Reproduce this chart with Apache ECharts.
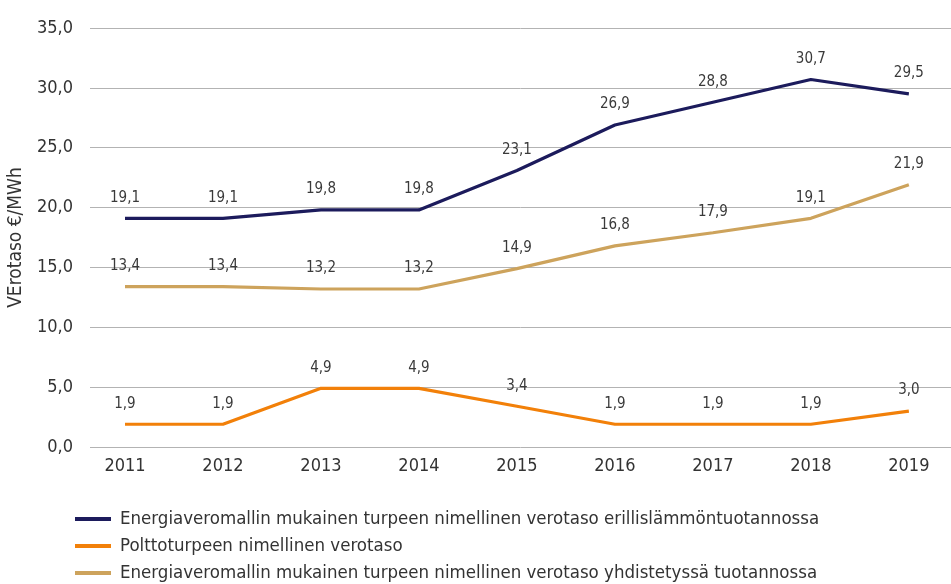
<!DOCTYPE html>
<html>
<head>
<meta charset="utf-8">
<script src="https://cdn.jsdelivr.net/npm/echarts@6/dist/echarts.min.js"></script>
<style>
  html, body { margin: 0; padding: 0; background: #fff; }
  #chart { width: 951px; height: 584px; }
</style>
</head>
<body>
<div id="chart"></div>
<script>
const years = [2011, 2012, 2013, 2014, 2015, 2016, 2017, 2018, 2019]
const erillis = [19.1, 19.1, 19.8, 19.8, 23.1, 26.9, 28.8, 30.7, 29.5]
const poltto = [1.9, 1.9, 4.9, 4.9, 3.4, 1.9, 1.9, 1.9, 3.0]
const yhdistetty = [13.4, 13.4, 13.2, 13.2, 14.9, 16.8, 17.9, 19.1, 21.9]
const names = [
  'Energiaveromallin mukainen turpeen nimellinen verotaso erillislämmöntuotannossa',
  'Polttoturpeen nimellinen verotaso',
  'Energiaveromallin mukainen turpeen nimellinen verotaso yhdistetyssä tuotannossa'
]
const colors = ['#1c1b5c', '#f28009', '#cda35c']

const font = '"DejaVu Sans Condensed", "Liberation Sans Narrow", sans-serif'
const fmt = v => v.toFixed(1).replace('.', ',')

function makeSeries(name, values, color) {
  return {
    name: name,
    type: 'line',
    data: values.map((v, i) => [years[i], v]),
    symbol: 'circle',
    symbolSize: 0,
    lineStyle: { color: color, width: 3.2 },
    itemStyle: { color: color },
    label: {
      show: true,
      position: 'top',
      distance: 13,
      color: '#3a3a3a',
      fontFamily: font,
      fontSize: 15,
      formatter: p => fmt(p.value[1])
    },
    emphasis: { disabled: true },
    animation: false
  }
}

const chart = echarts.init(document.getElementById('chart'))
chart.setOption({
  animation: false,
  grid: { left: 90, right: 0, top: 28, bottom: 137, outerBoundsMode: 'none', containLabel: false },
  legend: {
    orient: 'vertical',
    left: 75,
    top: 509,
    height: 100,
    padding: 0,
    itemWidth: 36,
    itemHeight: 4,
    itemGap: 7,
    icon: 'rect',
    textStyle: { fontFamily: font, fontSize: 18.5, color: '#333', lineHeight: 20, padding: [0, 0, 0, 4] },
    data: names
  },
  xAxis: {
    type: 'value',
    min: 2010.643,
    max: 2019.43,
    axisLine: { show: false },
    axisTick: { show: false },
    splitLine: { show: false },
    axisLabel: {
      customValues: years,
      margin: 10,
      fontFamily: font,
      fontSize: 18,
      color: '#333',
      formatter: v => String(v)
    }
  },
  yAxis: {
    type: 'value',
    min: 0,
    max: 35,
    interval: 5,
    name: 'VErotaso €/MWh',
    nameLocation: 'middle',
    nameRotate: 90,
    nameGap: 63,
    nameTextStyle: { fontFamily: font, fontSize: 19, color: '#333' },
    axisLine: { show: false },
    axisTick: { show: false },
    splitLine: { lineStyle: { color: '#b3b3b3', width: 1 } },
    axisLabel: {
      margin: 17,
      fontFamily: font,
      fontSize: 18,
      color: '#333',
      formatter: v => fmt(v)
    }
  },
  series: [
    makeSeries(names[0], erillis, colors[0]),
    makeSeries(names[1], poltto, colors[1]),
    makeSeries(names[2], yhdistetty, colors[2])
  ]
})
</script>
</body>
</html>
